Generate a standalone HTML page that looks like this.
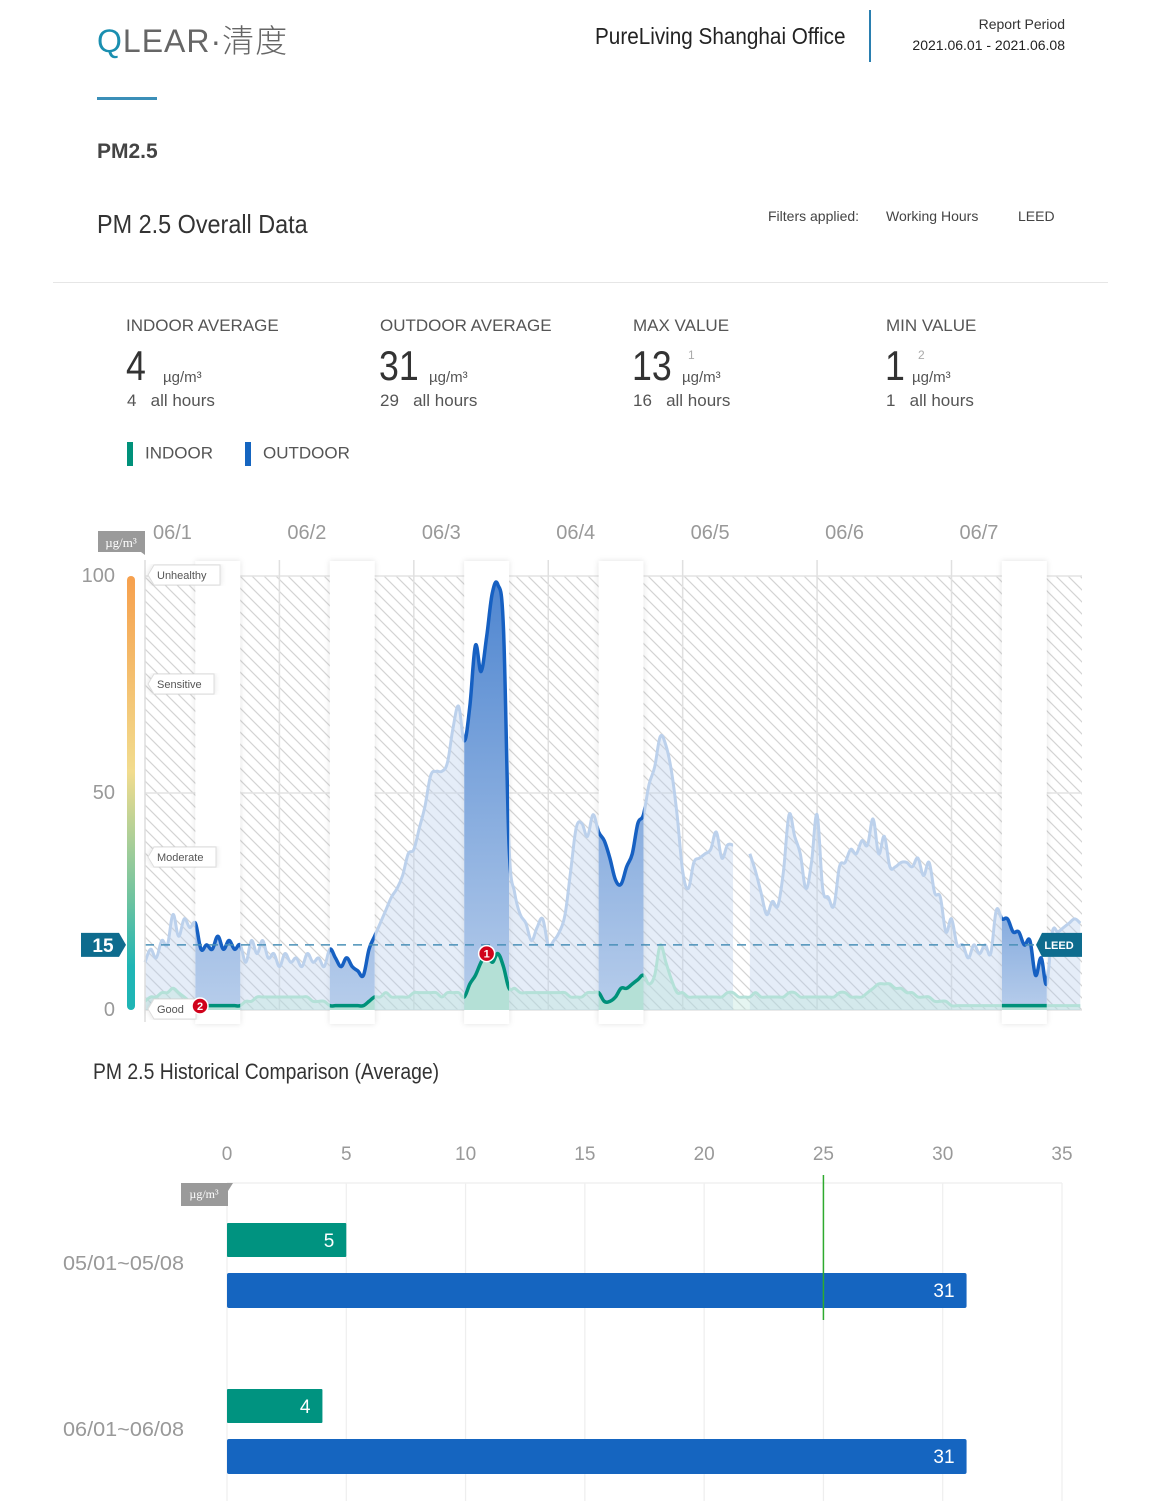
<!DOCTYPE html>
<html><head><meta charset="utf-8">
<style>
body{margin:0;background:#fff;width:1160px;height:1501px;position:relative;overflow:hidden;font-family:"Liberation Sans","Noto Sans CJK SC",sans-serif;color:#444}
.a{position:absolute;white-space:nowrap}
.lbl{font-size:17px;color:#555}
.big{font-size:42px;color:#333;transform:scaleX(0.85);transform-origin:left}
.unit{font-size:15px;color:#555}
.sub{font-size:17px;color:#555}
.sup{font-size:12px;color:#aaa}
</style></head><body>
<div class="a" style="left:97px;top:16px;font-size:32px;letter-spacing:1px;color:#666;font-family:'Liberation Sans','Noto Sans CJK SC',sans-serif;font-weight:300"><span style="color:#1a8fb0">Q</span>LEAR·清度</div>
<div class="a" style="left:97px;top:97px;width:60px;height:3px;background:#3b8fb8"></div>
<div class="a" style="left:595px;top:23px;font-size:23px;color:#222;transform:scaleX(0.9);transform-origin:left">PureLiving Shanghai Office</div>
<div class="a" style="left:869px;top:10px;width:2px;height:52px;background:#2a7fb0"></div>
<div class="a" style="right:95px;top:16px;font-size:14px;color:#333;text-align:right">Report Period</div>
<div class="a" style="right:95px;top:37px;font-size:14px;color:#222">2021.06.01 - 2021.06.08</div>
<div class="a" style="left:97px;top:140px;font-size:21px;font-weight:bold;color:#444">PM2.5</div>
<div class="a" style="left:97px;top:209px;font-size:26px;color:#333;transform:scaleX(0.9);transform-origin:left">PM 2.5 Overall Data</div>
<div class="a" style="left:768px;top:208px;font-size:14px;color:#444">Filters applied:</div>
<div class="a" style="left:886px;top:208px;font-size:14px;color:#444">Working Hours</div>
<div class="a" style="left:1018px;top:208px;font-size:14px;color:#444">LEED</div>
<div class="a" style="left:53px;top:282px;width:1055px;height:1px;background:#e6e6e6"></div>

<div class="a lbl" style="left:126px;top:316px">INDOOR AVERAGE</div>
<div class="a big" style="left:126px;top:342px">4</div>
<div class="a unit" style="left:163px;top:369px">µg/m³</div>
<div class="a sub" style="left:127px;top:391px">4&nbsp;&nbsp;&nbsp;all hours</div>

<div class="a lbl" style="left:380px;top:316px">OUTDOOR AVERAGE</div>
<div class="a big" style="left:379px;top:342px">31</div>
<div class="a unit" style="left:429px;top:369px">µg/m³</div>
<div class="a sub" style="left:380px;top:391px">29&nbsp;&nbsp;&nbsp;all hours</div>

<div class="a lbl" style="left:633px;top:316px">MAX VALUE</div>
<div class="a big" style="left:632px;top:342px">13</div>
<div class="a sup" style="left:688px;top:348px">1</div>
<div class="a unit" style="left:682px;top:369px">µg/m³</div>
<div class="a sub" style="left:633px;top:391px">16&nbsp;&nbsp;&nbsp;all hours</div>

<div class="a lbl" style="left:886px;top:316px">MIN VALUE</div>
<div class="a big" style="left:885px;top:342px">1</div>
<div class="a sup" style="left:918px;top:348px">2</div>
<div class="a unit" style="left:912px;top:369px">µg/m³</div>
<div class="a sub" style="left:886px;top:391px">1&nbsp;&nbsp;&nbsp;all hours</div>

<div class="a" style="left:127px;top:442px;font-size:17px;color:#555"><span style="display:inline-block;width:6px;height:24px;background:#00917a;vertical-align:middle;margin-right:12px"></span>INDOOR</div>
<div class="a" style="left:245px;top:442px;font-size:17px;color:#555"><span style="display:inline-block;width:6px;height:24px;background:#1565c0;vertical-align:middle;margin-right:12px"></span>OUTDOOR</div>

<div class="a" style="left:93px;top:1059px;font-size:22px;color:#333;transform:scaleX(0.88);transform-origin:left">PM 2.5 Historical Comparison (Average)</div>

<svg id="main" class="a" style="left:0;top:0" width="1160" height="1501"></svg>

<script>
// ===== Time series chart data =====
const dayLabels = ["06/1","06/2","06/3","06/4","06/5","06/6","06/7"];
const yTicks = [0,50,100];
const workDays = [0,1,2,3,6];
const outdoor = [
 11,14,12,16,15,22,17,21,19,20,14,15,14,17,14,16,14,15,11,16,13,16,12,13,
 10,13,11,12,10,13,11,12,10,14,12,10,12,10,9,8,14,17,20,23,26,28,31,36,
 37,42,47,54,55,55,57,65,70,62,70,84,78,86,96,98,88,38,27,22,20,16,19,21,
 15,16,18,22,32,42,43,40,45,41,39,35,30,29,33,36,43,45,52,56,63,61,55,45,
 32,28,34,35,36,37,41,35,38,38,null,null,36,32,27,22,25,24,32,45,40,36,28,34,
 45,28,26,24,33,34,37,36,39,38,44,36,40,33,33,34,34,33,35,31,34,27,26,18,
 21,15,15,12,15,13,15,13,23,21,21,18,18,15,16,8,12,6,18,18,19,20,21,20];
const indoor = [
 2,3,3,4,4,5,4,3,2,1,1,1,1,1,1,1,1,1,2,2,3,3,3,3,
 3,3,3,3,3,3,2,2,2,1,1,1,1,1,1,1,2,3,3,4,3,3,3,3,
 4,4,4,4,4,3,4,4,4,3,6,8,11,13,11,13,10,5,5,4,4,4,4,4,
 4,4,4,4,3,3,3,4,4,4,2,2,3,5,5,6,7,8,6,8,15,11,7,4,
 4,3,3,3,3,3,3,3,4,4,3,3,3,4,3,3,3,3,3,4,4,3,3,3,
 3,3,3,3,4,4,3,3,3,4,5,6,6,6,5,5,4,4,3,3,3,2,2,2,
 1,1,1,1,1,1,1,1,1,1,1,1,1,1,1,1,1,1,1,1,1,1,1,1];
const leedLimit = 15;
// ===== Historical comparison data =====
const histCats = ["05/01~05/08","06/01~06/08"];
const histIndoor = [5,4];
const histOutdoor = [31,31];
const histTicks = [0,5,10,15,20,25,30,35];
const histRef = 25;

const NS="http://www.w3.org/2000/svg";
const svg=document.getElementById('main');
function mk(tag,attrs,parent){const e=document.createElementNS(NS,tag);for(const k in attrs)e.setAttribute(k,attrs[k]);(parent||svg).appendChild(e);return e;}

const X0=145,X1=1082,Y0=1010,Y100=576;
const hourW=(X1-X0)/167.3;
const xH=h=>X0+h*hourW;
const yV=v=>Y0-(v/100)*(Y0-Y100);

const defs=mk('defs',{});
const pat=mk('pattern',{id:'hatch',width:12,height:12,patternUnits:'userSpaceOnUse'},defs);
mk('rect',{width:12,height:12,fill:'#fff'},pat);
mk('path',{d:'M-3,9 L3,15 M0,0 L12,12 M9,-3 L15,3',stroke:'#d4d4d4','stroke-width':1.2},pat);
const g1=mk('linearGradient',{id:'scale',x1:0,y1:0,x2:0,y2:1},defs);
[[0,'#f6a04d'],[0.45,'#f2dc8e'],[0.75,'#6cc3a0'],[0.9,'#1fb5b5'],[1,'#1fb5b5']].forEach(s=>mk('stop',{offset:s[0],'stop-color':s[1]},g1));
const g2=mk('linearGradient',{id:'darkfill',x1:0,y1:0,x2:0,y2:1},defs);
mk('stop',{offset:0,'stop-color':'#4f86d0'},g2);mk('stop',{offset:1,'stop-color':'#b7cdeb'},g2);
const fsh=mk('filter',{id:'shadow',x:'-20%',y:'-5%',width:'140%',height:'110%'},defs);
mk('feDropShadow',{dx:0,dy:0,stdDeviation:3,'flood-color':'#000','flood-opacity':0.12},fsh);
const clip=mk('clipPath',{id:'bands'},defs);
workDays.forEach(d=>{mk('rect',{x:xH(d*24+9),y:540,width:8*hourW,height:480},clip);});

const plot=mk('rect',{x:X0,y:Y100,width:X1-X0,height:Y0-Y100,fill:'url(#hatch)'});


yTicks.forEach(v=>{const l=mk('line',{x1:X0,x2:X1,y1:yV(v),y2:yV(v),stroke:'#e4e4e4','stroke-width':1.5});});
dayLabels.forEach((d,i)=>{
 if(i>0){const l=mk('line',{x1:xH(i*24),x2:xH(i*24),y1:560,y2:Y0,stroke:'#e0e0e0','stroke-width':1.5});}
 const t=mk('text',{x:xH(i*24)+8,y:539,'font-size':20,fill:'#999','font-family':'Liberation Sans'});t.textContent=d;
 
});
workDays.forEach(d=>{const r=mk('rect',{x:xH(d*24+9),y:561,width:8*hourW,height:463,fill:'#fff',filter:'url(#shadow)'});});

function segs(arr){const out=[];let cur=[];arr.forEach((v,i)=>{if(v==null){if(cur.length)out.push(cur);cur=[];}else cur.push([xH(i),yV(v)]);});if(cur.length)out.push(cur);return out;}
function smooth(p){let d='M'+p[0][0]+','+p[0][1];for(let i=0;i<p.length-1;i++){const p0=p[i-1]||p[i],p1=p[i],p2=p[i+1],p3=p[i+2]||p2;const t=0.18;
 d+=' C'+(p1[0]+(p2[0]-p0[0])*t)+','+(p1[1]+(p2[1]-p0[1])*t)+' '+(p2[0]-(p3[0]-p1[0])*t)+','+(p2[1]-(p3[1]-p1[1])*t)+' '+p2[0]+','+p2[1];}return d;}
function series(arr,lineCol,fillCol,w,clipId,name){
 const g=mk('g',clipId?{'clip-path':'url(#'+clipId+')'}:{});
 segs(arr).forEach(p=>{const d=smooth(p);
  const a=mk('path',{d:d+' L'+p[p.length-1][0]+','+Y0+' L'+p[0][0]+','+Y0+' Z',fill:fillCol},g);
  
  const l=mk('path',{d:d,fill:'none',stroke:lineCol,'stroke-width':w,'stroke-linejoin':'round'},g);
  });
}
series(outdoor,'#bcd1ec','rgba(180,204,236,0.35)',3,null,'outdoor');
series(indoor,'#b4e1d8','rgba(180,225,215,0.35)',3,null,'indoor');
series(outdoor,'#1660c2','url(#darkfill)',3.5,'bands','outdoor-working');
series(indoor,'#00917a','#b4e0d6',3.5,'bands','indoor-working');

const ll=mk('line',{x1:X0,x2:1040,y1:yV(leedLimit),y2:yV(leedLimit),stroke:'#4a90b8','stroke-width':1.5,'stroke-dasharray':'9,7'});

const lb=mk('path',{d:'M1042,'+(yV(15)-12)+' h40 v24 h-40 l-6,-12 z',fill:'#0e6c8e'});

const lt=mk('text',{x:1059,y:yV(15)+4,'font-size':11,fill:'#fff','text-anchor':'middle','font-weight':'bold','font-family':'Liberation Sans'});lt.textContent='LEED';

const ax=mk('line',{x1:X0,x2:X0,y1:560,y2:Y0+12,stroke:'#ddd','stroke-width':1.5});

const sc=mk('rect',{x:127,y:Y100,width:8,height:Y0-Y100,rx:4,fill:'url(#scale)'});

yTicks.forEach(v=>{const t=mk('text',{x:115,y:yV(v)+6,'font-size':20,fill:'#999','text-anchor':'end','font-family':'Liberation Sans'});t.textContent=v;
 });
const b15=mk('path',{d:'M81,'+(yV(15)-12)+' h38 l7,12 l-7,12 h-38 z',fill:'#0e6c8e'});

const t15=mk('text',{x:103,y:yV(15)+7,'font-size':19,'font-weight':'bold',fill:'#fff','text-anchor':'middle','font-family':'Liberation Sans'});t15.textContent='15';

const ut=mk('path',{d:'M98,531 h47 v24 l-4,-3 h-43 z',fill:'#9a9a9a'});

const utt=mk('text',{x:121,y:547,'font-size':13,fill:'#fff','text-anchor':'middle','font-family':'Liberation Serif'});utt.textContent='µg/m³';

[['Unhealthy',575,66],['Sensitive',684,60],['Moderate',857,62],['Good',1009,42]].forEach(c=>{
 const g=mk('g',{});
 const p=mk('path',{d:'M148,'+c[1]+' l6,-10 h'+c[2]+' v20 h-'+c[2]+' z',fill:'#fff',stroke:'#ddd',filter:'url(#shadow)'},g);
 
 const t=mk('text',{x:157,y:c[1]+4,'font-size':11,fill:'#555','font-family':'Liberation Sans'},g);t.textContent=c[0];
 
});
[[xH(61),yV(indoor[61]),'1'],[200,1006,'2']].forEach(m=>{
 const c=mk('circle',{cx:m[0],cy:m[1],r:8,fill:'#d0021b',stroke:'#fff','stroke-width':1.5});
 
 const t=mk('text',{x:m[0],y:m[1]+4,'font-size':11,'font-weight':'bold',fill:'#fff','text-anchor':'middle','font-family':'Liberation Sans'});t.textContent=m[2];
 
});

// ===== Historical bar chart =====
const HX0=227,HPX=(1062-227)/35;
const hx=v=>HX0+v*HPX;
histTicks.forEach(v=>{
 const l=mk('line',{x1:hx(v),x2:hx(v),y1:1183,y2:1501,stroke:'#eee','stroke-width':1.2});
 
 const t=mk('text',{x:hx(v),y:1160,'font-size':19,fill:'#999','text-anchor':'middle','font-family':'Liberation Sans'});t.textContent=v;
 
});
const hl=mk('line',{x1:HX0,x2:1062,y1:1183,y2:1183,stroke:'#f0f0f0','stroke-width':1.5});

const ut2=mk('path',{d:'M181,1183 h52 l-5,8 v15 h-47 z',fill:'#9a9a9a'});

const ut2t=mk('text',{x:204,y:1198,'font-size':12,fill:'#fff','text-anchor':'middle','font-family':'Liberation Serif'});ut2t.textContent='µg/m³';

histCats.forEach((c,i)=>{
 const base=1223+i*166;
 const t=mk('text',{x:184,y:base+47,'font-size':20,fill:'#999','text-anchor':'end','font-family':'Liberation Sans',textLength:121,lengthAdjust:'spacingAndGlyphs'});t.textContent=c;
 
 const b1=mk('rect',{x:HX0,y:base,width:hx(histIndoor[i])-HX0,height:34,fill:'#009380',rx:1});
 
 const v1=mk('text',{x:hx(histIndoor[i])-12,y:base+24,'font-size':19,fill:'#fff','text-anchor':'end','font-family':'Liberation Sans'});v1.textContent=histIndoor[i];
 
 const b2=mk('rect',{x:HX0,y:base+50,width:hx(histOutdoor[i])-HX0,height:35,fill:'#1565c0',rx:2});
 
 const v2=mk('text',{x:hx(histOutdoor[i])-12,y:base+74,'font-size':19,fill:'#fff','text-anchor':'end','font-family':'Liberation Sans'});v2.textContent=histOutdoor[i];
 
});
const rl=mk('line',{x1:hx(histRef),x2:hx(histRef),y1:1175,y2:1320,stroke:'#2eaa2e','stroke-width':1.5});

</script>
</body></html>
